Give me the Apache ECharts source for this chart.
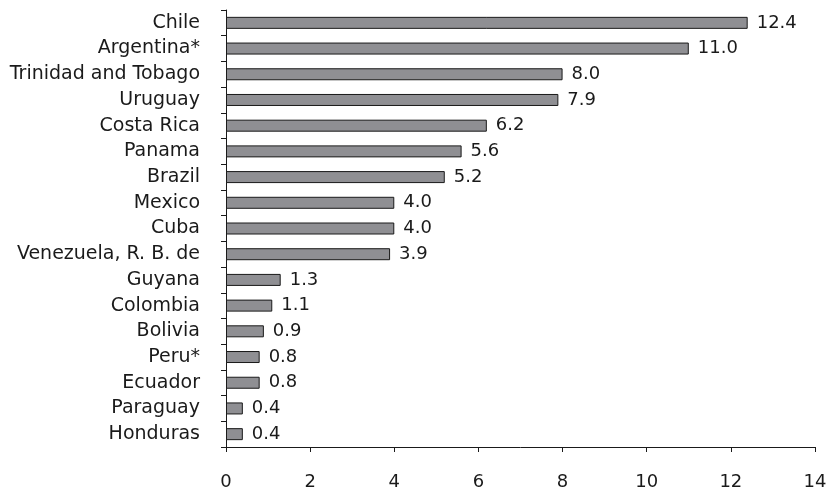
<!DOCTYPE html>
<html>
<head>
<meta charset="utf-8">
<script src="https://cdn.jsdelivr.net/npm/echarts@6/dist/echarts.min.js"></script>
<style>
  html, body { margin: 0; padding: 0; background: #fff; }
  #chart { width: 830px; height: 494px; }
</style>
</head>
<body>
<div id="chart"></div>
<script>
// Countries, listed top to bottom
const countries = [
  'Chile', 'Argentina*', 'Trinidad and Tobago', 'Uruguay', 'Costa Rica',
  'Panama', 'Brazil', 'Mexico', 'Cuba', 'Venezuela, R. B. de', 'Guyana',
  'Colombia', 'Bolivia', 'Peru*', 'Ecuador', 'Paraguay', 'Honduras'
];
const values = [12.4, 11.0, 8.0, 7.9, 6.2, 5.6, 5.2, 4.0, 4.0, 3.9, 1.3, 1.1, 0.9, 0.8, 0.8, 0.4, 0.4];
const xTicks = [0, 2, 4, 6, 8, 10, 12, 14];

const FONT = 'DejaVu Sans';
const INK = '#1a1a1a';
const chart = echarts.init(document.getElementById('chart'));
chart.setOption({
  animation: false,
  grid: { left: 226, right: 15, top: 10, bottom: 47, containLabel: false },
  xAxis: {
    type: 'value',
    min: xTicks[0],
    max: xTicks[xTicks.length - 1],
    interval: 2,
    splitLine: { show: false },
    axisLine: { show: true, lineStyle: { color: INK, width: 1 } },
    axisTick: { show: true, length: 5, lineStyle: { color: INK } },
    axisLabel: { color: INK, fontFamily: FONT, fontSize: 18, margin: 26 }
  },
  yAxis: {
    type: 'category',
    inverse: true,
    data: countries,
    axisLine: { show: true, lineStyle: { color: INK, width: 1 } },
    axisTick: { show: true, length: 5, lineStyle: { color: INK } },
    axisLabel: { color: INK, fontFamily: FONT, fontSize: 19, margin: 26 }
  },
  series: [{
    type: 'bar',
    data: values,
    barWidth: 12,
    itemStyle: { color: '#8f8f93', borderColor: INK, borderWidth: 1 },
    label: {
      show: true,
      position: 'right',
      distance: 9,
      color: INK,
      fontFamily: FONT,
      fontSize: 18,
      formatter: p => p.value.toFixed(1)
    }
  }]
});
</script>
</body>
</html>
